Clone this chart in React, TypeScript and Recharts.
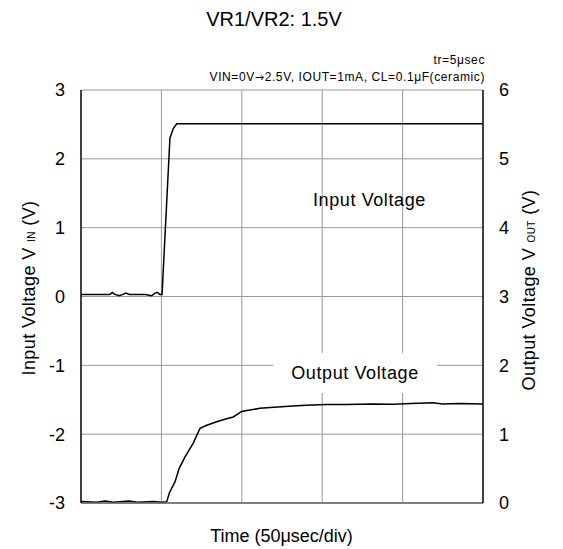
import React from "react";
import {
  LineChart,
  Line,
  XAxis,
  YAxis,
  CartesianGrid,
  ReferenceLine,
} from "recharts";

// time in µs (50µs/div, 5 divisions)
const inputTime = [0, 10, 18, 19.5, 21, 24, 26, 28, 30, 40, 44, 46, 47.5, 49, 50.4, 55.3, 57.4, 59.5, 250];
const inputVolts = [0.03, 0.03, 0.03, 0.06, 0.03, 0.01, 0.03, 0.05, 0.03, 0.03, 0.01, 0.05, 0.06, 0.03, 0.03, 2.3, 2.44, 2.51, 2.51];

const outputTime = [0, 10, 15, 20, 30, 35, 45, 50, 53.3, 55, 58.5, 61, 64.7, 69.8, 74, 78.2, 84.4, 90, 94.7, 99.9, 105, 111.3, 120, 131.8, 140, 152.8, 165, 180, 194, 205, 218.9, 225, 235, 250];
const outputVolts = [0.02, 0.01, 0.03, 0.01, 0.03, 0.01, 0.02, 0.01, 0.02, 0.15, 0.31, 0.5, 0.67, 0.87, 1.085, 1.13, 1.18, 1.22, 1.25, 1.33, 1.35, 1.375, 1.39, 1.41, 1.42, 1.43, 1.43, 1.44, 1.435, 1.445, 1.455, 1.44, 1.445, 1.44];

const timeTicks = [0, 50, 100, 150, 200, 250];
const inputTicks = [-3, -2, -1, 0, 1, 2, 3];
const outputTicks = [0, 1, 2, 3, 4, 5, 6];

const inputData = inputTime.map((t, i) => ({ t, vin: inputVolts[i] }));
const outputData = outputTime.map((t, i) => ({ t, vout: outputVolts[i] }));

const font = "'Liberation Sans', Arial, sans-serif";

export default function App() {
  const tickStyle = { fontSize: 18, fill: "#000", fontFamily: font };

  return (
    <div
      style={{
        position: "absolute",
        left: 0,
        top: 0,
        width: 563,
        height: 549,
        background: "#fff",
        fontFamily: font,
        color: "#000",
      }}
    >
      <LineChart
        width={563}
        height={549}
        margin={{ top: 90, right: 0, bottom: 0, left: 0 }}
      >
        <CartesianGrid yAxisId="in" vertical={false} stroke="#999" strokeWidth={1} />
        {timeTicks.slice(1, -1).map((t) => (
          <ReferenceLine key={t} x={t} yAxisId="in" stroke="#999" strokeWidth={1} />
        ))}
        <XAxis
          type="number"
          dataKey="t"
          domain={[0, 250]}
          ticks={timeTicks}
          allowDuplicatedCategory={false}
          tick={false}
          tickLine={false}
          height={46}
          axisLine={{ stroke: "#666", strokeWidth: 1.5 }}
        />
        <YAxis
          yAxisId="in"
          orientation="left"
          type="number"
          domain={[-3, 3]}
          ticks={inputTicks}
          width={81}
          tick={tickStyle}
          tickLine={false}
          tickSize={8}
          tickMargin={8}
          axisLine={{ stroke: "#000", strokeWidth: 1.5 }}
        />
        <YAxis
          yAxisId="out"
          orientation="right"
          type="number"
          domain={[0, 6]}
          ticks={outputTicks}
          width={80}
          tick={tickStyle}
          tickLine={false}
          tickSize={8}
          tickMargin={8}
          axisLine={{ stroke: "#000", strokeWidth: 1.5 }}
        />
        <Line
          yAxisId="in"
          data={inputData}
          dataKey="vin"
          type="linear"
          stroke="#000"
          strokeWidth={1.5}
          dot={false}
          isAnimationActive={false}
        />
        <Line
          yAxisId="out"
          data={outputData}
          dataKey="vout"
          type="linear"
          stroke="#000"
          strokeWidth={1.5}
          dot={false}
          isAnimationActive={false}
        />
      </LineChart>

      {/* title and conditions */}
      <div style={{ position: "absolute", left: 0, width: 548, top: 8, textAlign: "center", fontSize: 20 }}>
        VR1/VR2: 1.5V
      </div>
      <div style={{ position: "absolute", right: 78, top: 53, fontSize: 12, letterSpacing: 0.6 }}>
        tr=5μsec
      </div>
      <div style={{ position: "absolute", right: 78, top: 70, fontSize: 12, letterSpacing: 0.6, whiteSpace: "nowrap" }}>
        VIN=0V<span style={{ fontFamily: "'DejaVu Sans', sans-serif", fontSize: 11 }}>→</span>2.5V, IOUT=1mA, CL=0.1μF(ceramic)
      </div>

      {/* series labels */}
      <div style={{ position: "absolute", left: 313, top: 190, fontSize: 18, letterSpacing: 0.6, whiteSpace: "nowrap" }}>
        Input Voltage
      </div>
      <div
        style={{
          position: "absolute",
          left: 273,
          top: 353,
          width: 164,
          height: 40,
          lineHeight: "40px",
          background: "#fff",
          textAlign: "center",
          fontSize: 18,
          letterSpacing: 0.6,
          whiteSpace: "nowrap",
        }}
      >
        Output Voltage
      </div>

      {/* axis titles */}
      <div
        style={{
          position: "absolute",
          left: 29,
          top: 288,
          transform: "translate(-50%, -50%) rotate(-90deg)",
          fontSize: 18,
          whiteSpace: "nowrap",
          letterSpacing: 0.4,
        }}
      >
        Input Voltage V <span style={{ fontSize: 10 }}>IN</span> (V)
      </div>
      <div
        style={{
          position: "absolute",
          left: 529,
          top: 290,
          transform: "translate(-50%, -50%) rotate(-90deg)",
          fontSize: 18,
          whiteSpace: "nowrap",
          letterSpacing: 0.4,
        }}
      >
        Output Voltage V <span style={{ fontSize: 10 }}>OUT</span> (V)
      </div>
      <div style={{ position: "absolute", left: 0, width: 563, top: 526, textAlign: "center", fontSize: 18 }}>
        Time (50μsec/div)
      </div>
    </div>
  );
}
